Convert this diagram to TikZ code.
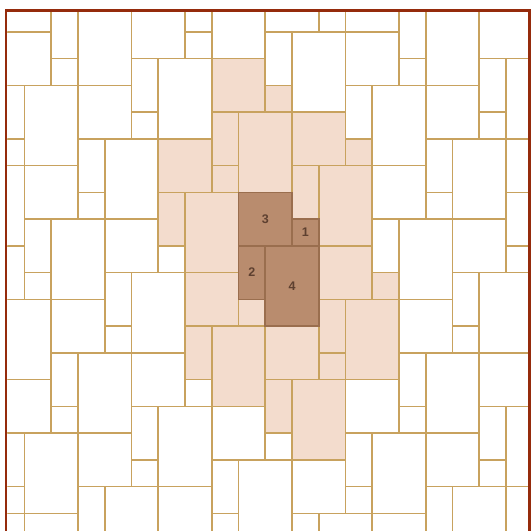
\documentclass[tikz,border=0pt]{standalone}
\usepackage{fontspec}
\newfontfamily\labfont{Liberation Sans}
\definecolor{tileline}{HTML}{C8A25E}
\definecolor{darkline}{HTML}{9A6E4E}
\definecolor{paletile}{HTML}{F3DCCD}
\definecolor{darktile}{HTML}{B98C6E}
\definecolor{framecol}{HTML}{952B0C}
\definecolor{labtext}{HTML}{5E4030}
\tikzset{
  stone/.style={draw=tileline, line width=1.6pt},
  darkstone/.style={draw=darkline, line width=1.6pt},
  stonelabel/.style={font=\labfont\bfseries\fontsize{12.5}{14}\selectfont, text=labtext, inner sep=0pt},
  framestyle/.style={draw=framecol, line width=2.6pt}
}
\newcommand\stonegroup[4]{%
  \draw[#4,fill=#3] (#1,#2) rectangle ++(2,2);
  \draw[#4,fill=#3] (#1+2,#2+1) rectangle ++(1,1);
  \draw[#4,fill=#3] (#1,#2+2) rectangle ++(1,2);
  \draw[#4,fill=#3] (#1+1,#2+2) rectangle ++(2,3);
}
\begin{document}
\begin{tikzpicture}[x=1pt,y=-1pt]
\useasboundingbox (0,0) rectangle (531,531);
\fill[white] (0,0) rectangle (531,531);
\begin{scope}
  \clip (7.4,11.8) rectangle (528.2,540);
  \begin{scope}[shift={(238.5,192.3)},x=26.75pt,y=-26.75pt]
    \foreach \m in {-7,...,7}{
      \foreach \n in {-7,...,7}{
        \pgfmathtruncatemacro\dx{2*\m+3*\n}
        \pgfmathtruncatemacro\dy{-3*\m+2*\n}
        \stonegroup{\dx}{\dy}{white}{stone}
      }
    }
    \foreach \m/\n in {1/-1,1/0,0/-1,-1/0,0/1,-1/1}{
      \pgfmathtruncatemacro\dx{2*\m+3*\n}
      \pgfmathtruncatemacro\dy{-3*\m+2*\n}
      \stonegroup{\dx}{\dy}{paletile}{stone}
    }
    \stonegroup{0}{0}{darktile}{darkstone}
    \node[stonelabel] (l3) at (1,1) {3};
    \node[stonelabel] (l1) at (2.5,1.5) {1};
    \node[stonelabel] (l2) at (0.5,3) {2};
    \node[stonelabel] (l4) at (2,3.5) {4};
  \end{scope}
\end{scope}
\coordinate (fbl) at (6.1,545);
\coordinate (ftl) at (6.1,10.6);
\coordinate (ftr) at (529.4,10.6);
\coordinate (fbr) at (529.4,545);
\draw[framestyle] (fbl) -- (ftl) -- (ftr) -- (fbr);
\end{tikzpicture}
\end{document}
